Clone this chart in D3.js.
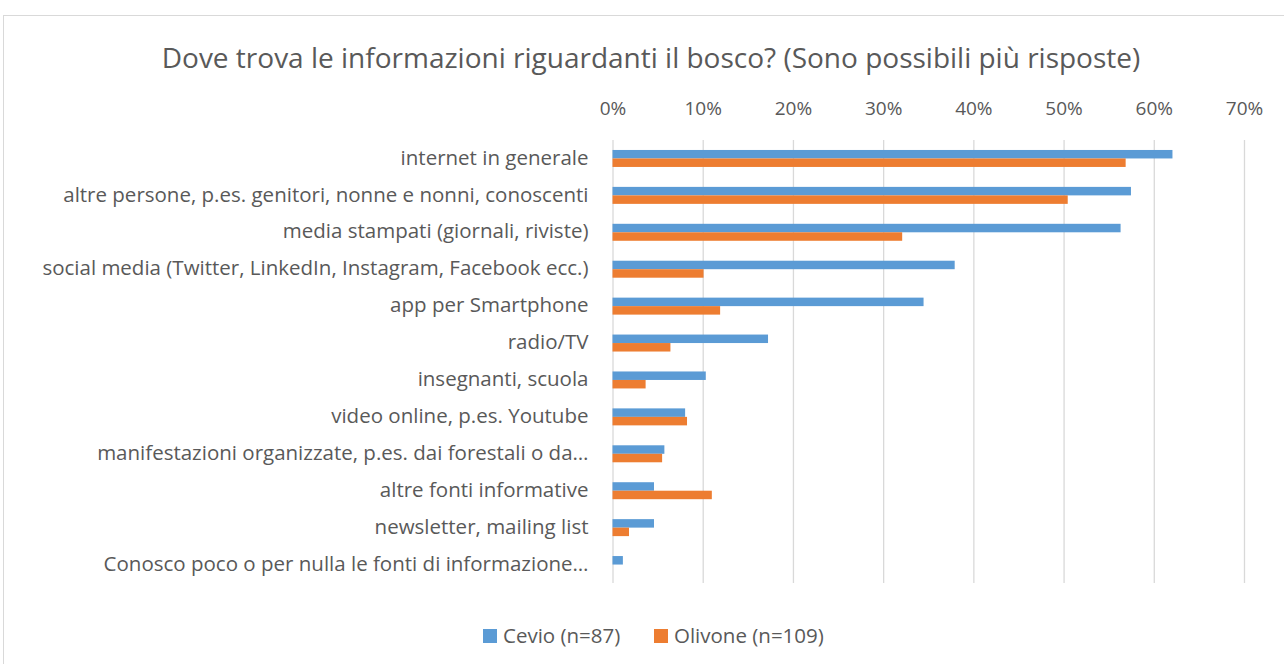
<!DOCTYPE html>
<html>
<head>
<meta charset="UTF-8">
<title>Dove trova le informazioni</title>
<style>
  body { margin: 0; background: #fff; }
  svg { font-family: "Open Sans", "Noto Sans", sans-serif; }
  .grid line { stroke: #d9d9d9; stroke-width: 1.3px; }
  .grid .domain { display: none; }
</style>
</head>
<body>
<script src="https://d3js.org/d3.v7.min.js"></script>
<script>
// categories, top to bottom
var categories = [
  "internet in generale",
  "altre persone, p.es. genitori, nonne e nonni, conoscenti",
  "media stampati (giornali, riviste)",
  "social media (Twitter, LinkedIn, Instagram, Facebook ecc.)",
  "app per Smartphone",
  "radio/TV",
  "insegnanti, scuola",
  "video online, p.es. Youtube",
  "manifestazioni organizzate, p.es. dai forestali o da…",
  "altre fonti informative",
  "newsletter, mailing list",
  "Conosco poco o per nulla le fonti di informazione…"
];
var cevio   = [62.07, 57.47, 56.32, 37.93, 34.48, 17.24, 10.34, 8.05, 5.75, 4.60, 4.60, 1.15];
var olivone = [56.88, 50.46, 32.11, 10.09, 11.93, 6.42, 3.67, 8.26, 5.50, 11.01, 1.83, 0];
var seriesNames = ["Cevio (n=87)", "Olivone (n=109)"];
var colors = ["#5b9bd5", "#ed7d31"];
var xTicks = [0, 10, 20, 30, 40, 50, 60, 70];

var W = 1284, H = 664;
var plotLeft = 612.5, plotRight = 1244, plotTop = 140, plotBottom = 583;

var svg = d3.select("body").append("svg")
  .attr("width", W).attr("height", H);

// chart frame
svg.append("rect")
  .attr("x", 3.5).attr("y", 15.5)
  .attr("width", W + 10).attr("height", H + 10)
  .attr("fill", "#fff").attr("stroke", "#d9d9d9");

svg.append("text")
  .attr("x", 651).attr("y", 68)
  .attr("text-anchor", "middle")
  .attr("font-size", 28)
  .attr("fill", "#595959")
  .text("Dove trova le informazioni riguardanti il bosco? (Sono possibili più risposte)");

var x = d3.scaleLinear().domain([0, 70]).range([plotLeft, plotRight]);
var y = d3.scaleBand().domain(categories).range([plotTop, plotBottom]).paddingInner(0.54).paddingOuter(0.27);
var y2 = d3.scaleBand().domain([0, 1]).range([0, y.bandwidth()]);

// gridlines
svg.append("g").attr("class", "grid")
  .attr("transform", "translate(0," + plotTop + ")")
  .call(d3.axisBottom(x).tickValues(xTicks).tickSize(plotBottom - plotTop).tickFormat(""));

// top axis labels
var xAxis = svg.append("g")
  .attr("transform", "translate(0,118)")
  .call(d3.axisTop(x).tickValues(xTicks).tickSize(0).tickFormat(function(d){ return d + "%"; }));
xAxis.select(".domain").remove();
xAxis.selectAll("text")
  .attr("font-family", "'Open Sans', sans-serif")
  .attr("font-size", 19).attr("fill", "#595959");

// category labels
var yAxis = svg.append("g")
  .attr("transform", "translate(" + (plotLeft - 14) + ",0)")
  .call(d3.axisLeft(y).tickSize(0).tickPadding(10));
yAxis.select(".domain").remove();
yAxis.selectAll("text")
  .attr("font-family", "'Open Sans', sans-serif")
  .attr("font-size", 20.5).attr("fill", "#595959")
  .attr("dy", "0.3em");

// bars
[cevio, olivone].forEach(function(vals, s) {
  svg.append("g").selectAll("rect")
    .data(vals)
    .join("rect")
    .attr("x", x(0))
    .attr("y", function(d, i){ return y(categories[i]) + y2(s); })
    .attr("width", function(d){ return x(d) - x(0); })
    .attr("height", y2.bandwidth())
    .attr("fill", colors[s]);
});

// legend
var legX = [483, 654];
seriesNames.forEach(function(name, s) {
  svg.append("rect")
    .attr("x", legX[s]).attr("y", 629)
    .attr("width", 14).attr("height", 14)
    .attr("fill", colors[s]);
  svg.append("text")
    .attr("x", legX[s] + 20).attr("y", 643)
    .attr("font-size", 20.5).attr("fill", "#595959")
    .text(name);
});
</script>
</body>
</html>
